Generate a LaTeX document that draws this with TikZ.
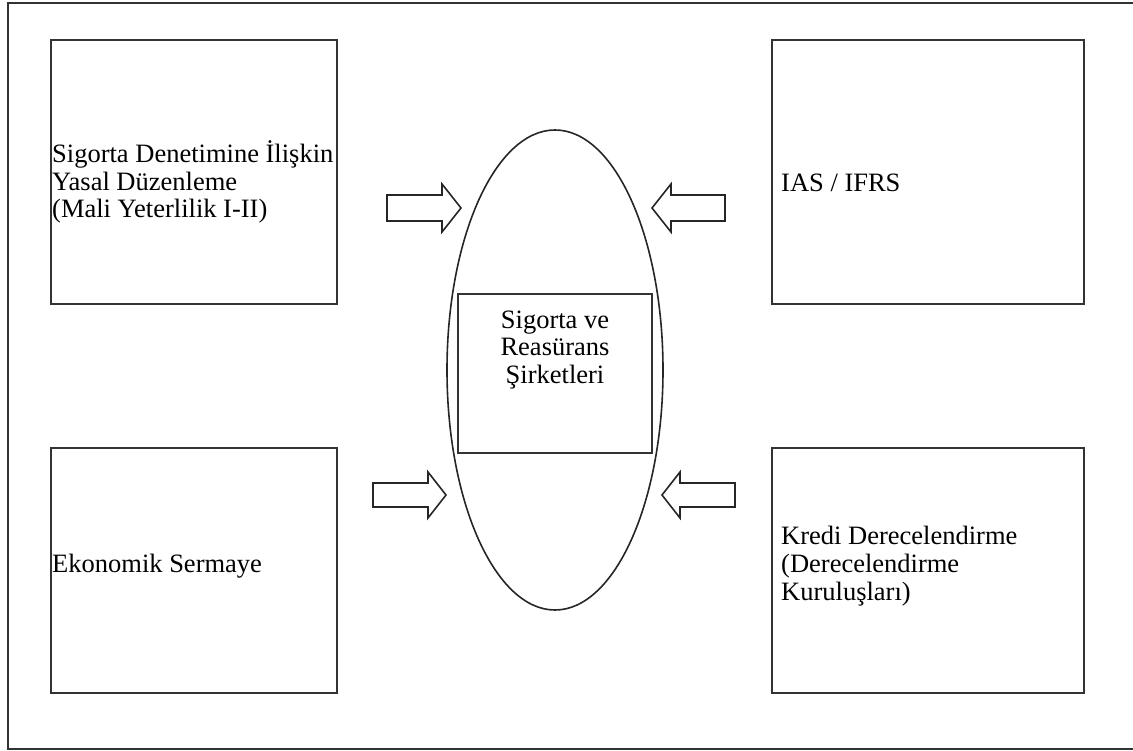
\documentclass[tikz,border=0pt]{standalone}
\usepackage{fontspec}
\setmainfont{Liberation Serif}
\usetikzlibrary{shapes.geometric}
\begin{document}
\begin{tikzpicture}[x=1pt,y=-1pt,line join=miter,
  frame/.style={draw=black!80,line width=1.6pt},
  box/.style={draw=black!80,line width=1.6pt,anchor=north west,inner sep=0pt},
  txt/.style={font=\fontsize{26.5}{27.8}\selectfont,align=left,anchor=west,inner sep=0pt},
  blockarrow/.style={draw=black!85,line width=1.6pt,fill=white}]
\useasboundingbox (0,0) rectangle (1133,751);
\draw[frame] (1140,3) -- (8,3) -- (8,749) -- (1140,749);
% boxes
\node[box,minimum width=286pt,minimum height=264pt] (tl) at (50,39) {};
\node[box,minimum width=312pt,minimum height=264pt] (tr) at (771,39) {};
\node[box,minimum width=286pt,minimum height=245pt] (bl) at (50,447) {};
\node[box,minimum width=312pt,minimum height=245pt] (br) at (771,447) {};
% ellipse and inner box
\node[draw=black!85,line width=1.6pt,ellipse,minimum width=216pt,minimum height=480pt,inner sep=0pt] (ell) at (555,370) {};
\node[box,minimum width=194pt,minimum height=159pt] (inner) at (457,293) {};
% texts
\node[txt] (tltext) at (52,182) {Sigorta Denetimine İlişkin\\Yasal Düzenleme\\(Mali Yeterlilik I-II)};
\node[txt] (trtext) at (781,183) {IAS / IFRS};
\node[txt] (bltext) at (52,566) {Ekonomik Sermaye};
\node[txt] (brtext) at (781,566) {Kredi Derecelendirme\\(Derecelendirme\\Kuruluşları)};
\node[txt,align=center,anchor=center] (ctext) at (555,350) {Sigorta ve\\Reasürans\\Şirketleri};
% block arrows
\draw[blockarrow] (387,195) -- (442,195) -- (442,184) -- (461,208) -- (442,232) -- (442,221) -- (387,221) -- cycle;
\draw[blockarrow] (725,195) -- (671,195) -- (671,184) -- (652,208) -- (671,232) -- (671,221) -- (725,221) -- cycle;
\draw[blockarrow] (373,483) -- (428,483) -- (428,472) -- (446,495) -- (428,518) -- (428,507) -- (373,507) -- cycle;
\draw[blockarrow] (735,483) -- (680,483) -- (680,472) -- (662,495) -- (680,518) -- (680,507) -- (735,507) -- cycle;
\end{tikzpicture}
\end{document}
